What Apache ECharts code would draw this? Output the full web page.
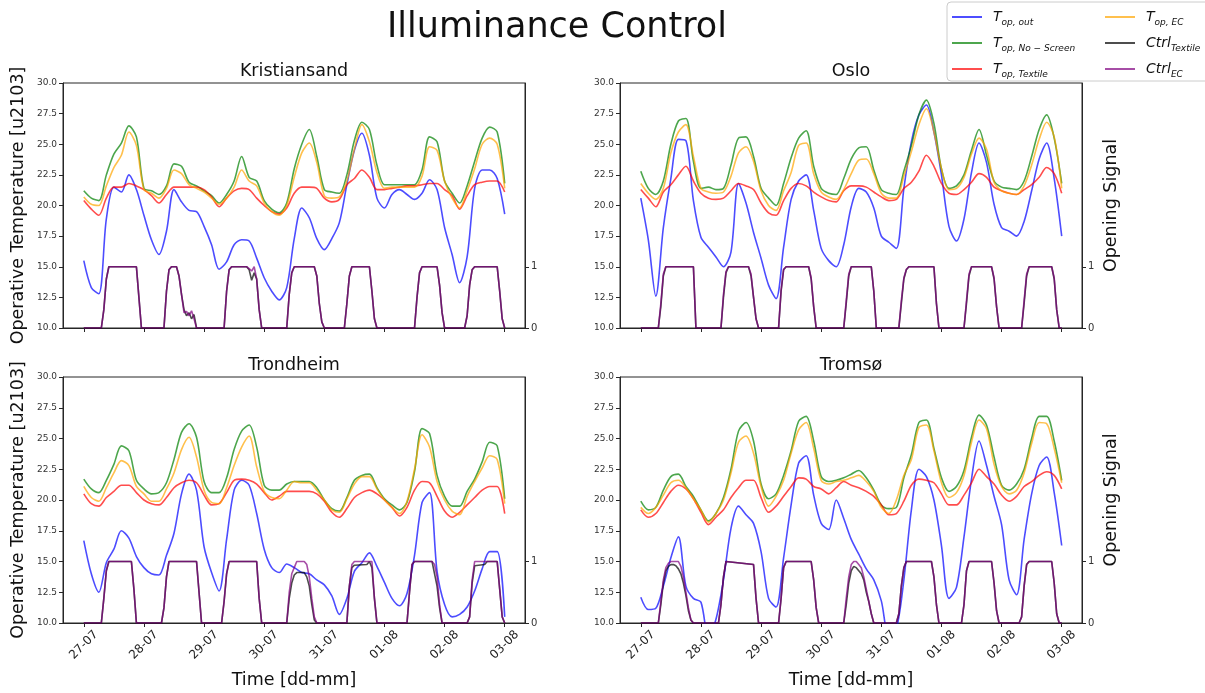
<!DOCTYPE html>
<html><head><meta charset="utf-8">
<script src="https://cdn.jsdelivr.net/npm/echarts@6/dist/echarts.min.js"></script>
<style>html,body{margin:0;padding:0;background:#fff}#c{width:1205px;height:693px}</style>
</head><body><div id="c"></div>
<script>
// ---------- data ----------
const cities = ['Kristiansand', 'Oslo', 'Trondheim', 'Tromsø'];
const xTickLabels = ['27-07','28-07','29-07','30-07','31-07','01-08','02-08','03-08'];
const xTickHours = [0, 24, 48, 72, 96, 120, 144, 168];
const signalTicks = [0, 1];
const stepHours = 3; // temperature samples every 3 h from 27-07 00:00

// Kristiansand
const kOut = [15.5,13.3,12.8,18.9,21.5,21.1,22.5,21.3,19.2,17.2,16.0,17.9,21.3,20.3,19.6,19.5,18.3,16.8,14.8,15.4,16.8,17.2,17.1,15.7,14.1,13.0,12.3,13.3,17.3,19.8,19.0,17.3,16.4,17.3,18.6,21.7,24.5,25.9,24.1,20.6,19.8,20.9,21.3,20.9,20.5,21.0,22.1,21.3,18.2,16.0,13.7,15.8,21.4,22.9,22.9,22.2,19.3];
const kNoScreen = [21.2,20.6,20.4,22.5,24.2,25.1,26.5,25.6,21.4,21.2,20.9,21.6,23.4,23.2,21.9,21.6,21.2,20.8,20.2,20.9,22.0,24.0,22.3,22.0,20.4,19.7,19.4,20.2,23.0,25.0,26.2,24.0,21.3,21.1,21.0,22.5,25.3,26.8,26.2,23.3,21.7,21.7,21.7,21.7,21.7,22.9,25.6,25.2,22.0,21.0,20.2,21.6,23.6,25.5,26.4,26.0,21.8];
const kTextile = [20.4,19.7,19.2,20.6,21.5,21.5,21.8,21.6,21.3,20.8,20.2,20.9,21.5,21.5,21.5,21.5,21.3,20.7,19.9,20.6,21.2,21.4,21.3,20.6,20.0,19.5,19.3,19.8,21.0,21.5,21.5,21.4,20.6,20.3,20.5,21.7,22.2,22.9,22.3,21.3,21.3,21.4,21.5,21.6,21.6,21.7,21.8,21.8,21.3,20.8,19.7,20.8,21.7,21.9,22.0,22.0,21.1];
const kEC = [20.7,20.1,20.0,21.6,23.1,24.1,26.0,24.9,21.3,21.0,20.6,21.4,22.9,22.6,21.7,21.4,21.1,20.6,20.1,20.6,21.5,22.9,22.0,21.6,20.2,19.5,19.2,20.0,22.3,24.3,25.1,23.5,20.8,20.6,20.7,22.0,24.6,26.6,25.2,22.7,21.4,21.5,21.5,21.5,21.5,22.4,24.8,24.5,22.0,20.6,19.8,21.2,23.0,25.0,25.5,25.0,21.4];
const kCtrlTextile = [[0,0],[7,0],[8,0.3],[9,0.8],[10,1],[21,1],[22,0.5],[23,0],[32,0],[33,0.6],[34,0.95],[35,1],[37,1],[38,0.85],[39,0.55],[40,0.3],[41,0.2],[42,0.25],[43,0.15],[44,0.22],[45,0],[56,0],[57,0.6],[58,0.95],[59,1],[65,1],[66,0.95],[67,0.78],[68,0.9],[69,0.8],[70,0.3],[71,0],[81,0],[82,0.55],[83,0.9],[84,1],[92,1],[93,0.85],[94,0.4],[95,0.1],[96,0],[104,0],[105,0.4],[106,0.85],[107,1],[114,1],[115,0.6],[116,0.15],[117,0],[132,0],[133,0.5],[134,0.9],[135,1],[141,1],[142,0.7],[143,0.25],[144,0],[152,0],[153,0.2],[154,0.7],[155,0.95],[156,1],[165,1],[166,0.6],[167,0.15],[168,0]];
const kCtrlEC = [[0,0],[7,0],[8,0.3],[9,0.8],[10,1],[21,1],[22,0.5],[23,0],[32,0],[33,0.6],[34,0.95],[35,1],[37,1],[38,0.85],[39,0.55],[40,0.25],[41,0.27],[42,0.2],[43,0.28],[44,0.15],[45,0],[56,0],[57,0.6],[58,0.95],[59,1],[65,1],[66,0.97],[67,0.93],[68,1],[69,0.8],[70,0.3],[71,0],[81,0],[82,0.55],[83,0.9],[84,1],[92,1],[93,0.85],[94,0.4],[95,0.1],[96,0],[104,0],[105,0.4],[106,0.85],[107,1],[114,1],[115,0.6],[116,0.15],[117,0],[132,0],[133,0.5],[134,0.9],[135,1],[141,1],[142,0.7],[143,0.25],[144,0],[152,0],[153,0.2],[154,0.7],[155,0.95],[156,1],[165,1],[166,0.6],[167,0.15],[168,0]];

// Oslo
const oOut = [20.6,17.2,12.6,18.2,22.2,25.4,25.3,20.4,17.4,16.6,15.8,15.0,16.2,21.8,20.2,17.8,15.7,13.5,12.4,16.6,20.5,22.0,22.5,19.6,16.5,15.5,15.0,16.8,19.9,21.4,21.1,19.8,17.5,17.0,16.5,21.4,25.2,27.4,28.2,26.0,22.5,18.3,17.1,18.9,22.7,25.1,23.5,20.1,18.2,17.9,17.5,18.7,21.2,23.8,25.1,22.2,17.5];
const oNoScreen = [22.8,21.4,20.9,22.0,25.0,26.9,27.1,23.6,21.4,21.5,21.3,21.4,23.3,25.5,25.6,24.0,21.4,20.6,20.0,21.8,23.9,25.5,26.1,23.2,21.4,21.0,20.9,22.2,23.8,24.7,24.8,22.9,21.3,21.0,20.9,22.8,24.9,27.4,28.6,26.7,23.0,21.4,21.6,22.5,24.5,26.2,24.1,22.0,21.5,21.4,21.3,22.0,24.0,26.2,27.4,25.5,21.8];
const oTextile = [21.3,20.6,19.9,21.1,21.7,22.5,23.2,22.0,21.0,20.6,20.5,20.6,21.2,21.8,21.6,21.3,20.2,19.4,19.2,20.4,21.4,21.8,21.6,21.1,20.7,20.4,20.3,21.2,21.6,21.6,21.5,21.1,20.7,20.4,20.5,21.4,21.9,22.8,24.1,23.2,21.8,21.0,20.9,21.3,21.9,22.6,22.3,21.5,21.2,21.0,20.9,21.3,21.7,22.3,23.1,22.6,21.0];
const oEC = [21.8,21.0,20.5,21.4,24.3,26.0,26.6,24.0,21.4,21.1,21.0,21.1,22.4,24.3,24.8,23.6,21.2,20.0,19.6,21.2,22.7,24.9,25.1,22.6,21.1,20.7,20.5,21.3,22.6,23.7,23.8,22.6,21.0,20.6,20.6,22.4,24.4,26.6,27.9,26.0,23.0,21.3,21.4,22.3,24.2,25.5,24.6,21.9,21.2,21.0,20.9,21.6,23.3,25.4,26.8,25.6,21.4];
const oCtrlTextile = [[0,0],[7,0],[8,0.35],[9,0.85],[10,1],[21,1],[21.5,0.5],[22,0],[32,0],[33,0.5],[34,0.9],[35,1],[43,1],[44,0.85],[45,0.5],[46,0.15],[47,0],[55,0],[56,0.6],[57,0.95],[58,1],[67,1],[68,0.8],[69,0.35],[70,0],[81,0],[82,0.4],[83,0.85],[84,1],[92,1],[93,0.6],[94,0],[103,0],[104,0.4],[105,0.8],[106,0.95],[107,1],[117,1],[118,0.4],[119,0],[129,0],[130,0.4],[131,0.85],[132,1],[140,1],[141,0.8],[142,0.35],[143,0],[152,0],[153,0.4],[154,0.85],[155,1],[164,1],[165,0.8],[166,0.3],[167,0],[168,0]];
const oCtrlEC = [[0,0],[7,0],[8,0.4],[9,0.88],[10,1],[21,1],[21.5,0.5],[22,0],[32,0],[33,0.55],[34,0.92],[35,1],[43,1],[44,0.88],[45,0.5],[46,0.15],[47,0],[55,0],[56,0.62],[57,0.96],[58,1],[67,1],[68,0.82],[69,0.35],[70,0],[81,0],[82,0.45],[83,0.88],[84,1],[92,1],[93,0.6],[94,0],[103,0],[104,0.45],[105,0.82],[106,0.96],[107,1],[117,1],[118,0.4],[119,0],[129,0],[130,0.45],[131,0.88],[132,1],[140,1],[141,0.82],[142,0.35],[143,0],[152,0],[153,0.45],[154,0.88],[155,1],[164,1],[165,0.82],[166,0.3],[167,0],[168,0]];

// Trondheim
const tdOut = [16.7,14.0,12.5,14.9,16.0,17.5,16.9,15.4,14.5,14.0,13.9,15.5,17.3,20.5,22.1,20.8,16.2,14.1,12.6,16.8,20.8,21.6,21.2,18.9,16.0,14.5,14.1,14.8,14.5,14.1,14.0,13.5,13.1,12.2,10.7,12.0,14.2,14.9,15.7,14.6,13.3,12.0,11.4,12.4,15.5,19.8,20.6,14.2,11.5,10.5,10.7,11.3,12.6,14.4,15.8,15.8,10.5];
const tdNoScreen = [21.7,20.9,20.6,21.6,22.9,24.4,24.0,21.6,20.9,20.5,20.6,21.4,23.3,25.5,26.2,25.1,21.5,20.6,20.6,21.8,24.1,25.6,26.1,24.3,21.2,20.8,20.8,21.3,21.5,21.5,21.5,21.0,20.0,19.3,19.1,20.2,21.6,22.0,22.1,21.0,20.1,19.6,19.2,19.8,22.3,25.8,25.4,22.0,20.3,19.5,19.5,20.7,21.7,23.1,24.7,24.4,20.1];
const tdTextile = [20.5,19.7,19.5,20.2,20.7,21.2,21.2,20.6,20.0,19.7,19.6,20.2,21.0,21.4,21.6,21.4,20.4,19.6,19.7,20.6,21.6,21.7,21.6,21.3,20.6,20.0,20.3,20.7,20.7,20.7,20.7,20.5,19.9,19.0,18.6,19.3,20.2,20.6,20.8,20.5,20.0,19.4,18.7,19.4,20.8,21.5,21.4,20.3,19.1,18.6,19.0,19.6,20.2,20.8,21.1,21.1,18.9];
const tdEC = [21.1,20.2,19.9,21.0,22.2,23.2,22.8,21.1,20.5,19.9,19.9,20.9,22.2,24.1,25.1,23.5,20.8,19.8,19.7,21.0,22.8,24.3,25.2,22.7,20.7,20.2,20.1,20.8,21.5,21.4,21.4,20.8,20.0,19.2,19.0,20.1,21.3,21.9,21.9,20.9,20.0,19.4,18.9,19.9,22.5,25.3,24.3,21.5,20.0,19.1,18.8,20.3,21.5,22.6,23.6,23.3,19.7];
const tdCtrlTextile = [[0,0],[7,0],[8,0.4],[9,0.85],[10,1],[19,1],[20,0.55],[21,0],[31,0],[32,0.25],[33,0.75],[34,1],[45,1],[46,0.5],[47,0],[55,0],[56,0.35],[57,0.8],[58,1],[69,1],[70,0.4],[71,0],[81,0],[82,0.4],[83,0.65],[84,0.78],[85,0.82],[88,0.82],[89,0.75],[90,0.6],[91,0.3],[92,0.05],[93,0],[105,0],[106,0.6],[107,0.9],[108,0.94],[113,0.95],[114,1],[115,0.9],[116,0.4],[117,0],[129,0],[130,0.5],[131,0.95],[132,1],[139,1],[140,0.8],[141,0.6],[142,0.25],[143,0],[153,0],[154,0.1],[155,0.65],[156,0.93],[160,0.95],[161,1],[165,1],[166,0.55],[167,0.1],[168,0]];
const tdCtrlEC = [[0,0],[7,0],[8,0.4],[9,0.85],[10,1],[19,1],[20,0.55],[21,0],[31,0],[32,0.25],[33,0.75],[34,1],[45,1],[46,0.5],[47,0],[55,0],[56,0.35],[57,0.8],[58,1],[69,1],[70,0.4],[71,0],[81,0],[82,0.5],[83,0.8],[84,0.9],[85,1],[88,1],[89,0.95],[90,0.75],[91,0.4],[92,0.1],[93,0],[105,0],[106,0.6],[107,0.95],[108,1],[115,1],[116,0.4],[117,0],[129,0],[130,0.5],[131,0.95],[132,1],[139,1],[140,0.95],[141,0.75],[142,0.3],[143,0],[153,0],[154,0.1],[155,0.7],[156,1],[165,1],[166,0.55],[167,0.1],[168,0]];

// Tromsø
const tmOut = [12.1,11.1,11.2,13.0,15.3,17.0,13.0,12.0,11.7,8.8,10.3,13.5,17.7,19.5,18.8,18.1,15.8,12.0,11.3,15.3,19.6,23.0,23.6,20.4,18.1,17.6,20.0,18.5,16.8,15.6,14.4,13.5,11.8,9.0,9.5,13.5,19.2,22.5,21.9,20.0,16.3,12.0,12.9,17.0,21.7,24.8,22.8,20.3,18.0,13.5,12.3,16.8,20.5,22.8,23.5,20.6,16.3];
const tmNoScreen = [19.9,19.2,19.4,20.8,21.9,22.1,21.1,20.3,19.2,18.3,18.9,20.2,22.5,25.6,26.3,24.8,21.3,20.1,20.5,22.0,24.0,26.4,26.8,24.8,21.9,21.5,21.6,21.8,22.1,22.4,21.8,20.8,19.6,19.3,19.4,21.8,23.7,26.3,26.5,24.2,21.8,20.7,21.1,22.4,25.1,26.9,26.1,23.5,21.2,20.8,21.3,22.5,25.0,26.8,26.8,24.8,21.6];
const tmTextile = [19.2,18.6,18.9,19.8,20.7,21.2,20.9,20.1,19.0,18.0,18.6,19.2,20.2,21.0,21.6,21.6,20.2,19.0,19.5,20.3,21.1,21.8,21.7,21.1,20.9,20.5,21.0,21.5,21.2,21.0,20.7,20.3,19.6,18.8,18.9,19.9,21.2,21.7,21.6,21.4,20.5,19.6,19.6,20.4,21.4,22.5,21.9,21.3,20.4,19.9,20.3,21.1,21.5,22.0,22.3,22.0,20.9];
const tmEC = [19.4,18.9,19.4,20.4,21.4,21.6,21.0,20.1,19.2,18.2,18.9,20.0,22.2,24.7,25.2,23.8,21.1,19.5,20.3,21.6,23.8,25.7,26.3,24.2,21.6,21.3,21.5,21.6,21.8,22.0,21.5,20.7,19.4,18.9,20.0,22.0,23.3,25.9,26.1,24.0,21.4,20.2,20.6,22.0,24.7,26.5,25.8,22.9,21.1,20.5,20.8,22.2,24.6,26.3,26.2,24.2,21.4];
const tmCtrlTextile = [[0,0],[7,0],[8,0.3],[9,0.65],[10,0.85],[11,0.92],[12,0.95],[13,0.95],[14,0.93],[15,0.88],[16,0.8],[17,0.65],[18,0.45],[19,0.2],[20,0.05],[21,0],[31,0],[32,0.3],[33,0.75],[34,1],[45,0.95],[46,0.4],[47,0],[55,0],[56,0.4],[57,0.9],[58,1],[68,1],[69,0.7],[70,0.25],[71,0],[81,0],[82,0.3],[83,0.65],[84,0.85],[85,0.92],[86,0.9],[87,0.85],[88,0.8],[89,0.7],[90,0.5],[91,0.35],[92,0.15],[93,0],[102,0],[103,0.15],[104,0.6],[105,0.9],[106,1],[116,1],[117,0.75],[118,0.3],[119,0],[128,0],[129,0.3],[130,0.85],[131,1],[140,1],[141,0.65],[142,0.2],[143,0],[151,0],[152,0.1],[153,0.6],[154,0.95],[155,1],[164,1],[165,0.65],[166,0.15],[167,0],[168,0]];
const tmCtrlEC = [[0,0],[7,0],[8,0.35],[9,0.7],[10,0.9],[11,0.97],[12,1],[15,1],[16,0.92],[17,0.75],[18,0.5],[19,0.25],[20,0.05],[21,0],[31,0],[32,0.3],[33,0.75],[34,1],[45,0.95],[46,0.4],[47,0],[55,0],[56,0.4],[57,0.9],[58,1],[68,1],[69,0.7],[70,0.25],[71,0],[81,0],[82,0.4],[83,0.75],[84,0.95],[85,1],[86,1],[87,0.95],[88,0.9],[89,0.75],[90,0.55],[91,0.35],[92,0.15],[93,0],[102,0],[103,0.15],[104,0.6],[105,0.9],[106,1],[116,1],[117,0.75],[118,0.3],[119,0],[128,0],[129,0.3],[130,0.85],[131,1],[140,1],[141,0.65],[142,0.2],[143,0],[151,0],[152,0.1],[153,0.6],[154,0.95],[155,1],[164,1],[165,0.65],[166,0.15],[167,0],[168,0]];

// ---------- build ----------
const panels = [
  {out:kOut, noScreen:kNoScreen, textile:kTextile, ec:kEC, ctrlTextile:kCtrlTextile, ctrlEC:kCtrlEC},
  {out:oOut, noScreen:oNoScreen, textile:oTextile, ec:oEC, ctrlTextile:oCtrlTextile, ctrlEC:oCtrlEC},
  {out:tdOut, noScreen:tdNoScreen, textile:tdTextile, ec:tdEC, ctrlTextile:tdCtrlTextile, ctrlEC:tdCtrlEC},
  {out:tmOut, noScreen:tmNoScreen, textile:tmTextile, ec:tmEC, ctrlTextile:tmCtrlTextile, ctrlEC:tmCtrlEC}
];
const withHours = arr => arr.map((v, i) => [i * stepHours, v]);

const FONT = 'DejaVu Sans';
const AX = '#262626';
const seriesDefs = [
  {key:'out', name:'Tout', color:'#0000ff', legend:'#4d4dff', ctrl:false},
  {key:'noScreen', name:'TnoScreen', color:'#008000', legend:'#4da64d', ctrl:false},
  {key:'textile', name:'Ttextile', color:'#ff0000', legend:'#ff4d4d', ctrl:false},
  {key:'ec', name:'TEC', color:'#ffa500', legend:'#ffc04d', ctrl:false},
  {key:'ctrlTextile', name:'CtrlTextile', color:'#000000', legend:'#4d4d4d', ctrl:true},
  {key:'ctrlEC', name:'CtrlEC', color:'#800080', legend:'#a64da6', ctrl:true}
];
const legendText = {
  Tout: '{sp| }{m|T}{s|op, out}',
  TnoScreen: '{sp| }{m|T}{s|op, No − Screen}',
  Ttextile: '{sp| }{m|T}{s|op, Textile}',
  TEC: '{sp| }{m|T}{s|op, EC}',
  CtrlTextile: '{sp| }{m|Ctrl}{s|Textile}',
  CtrlEC: '{sp| }{m|Ctrl}{s|EC}'
};

const gridPos = [
  {left:63, top:83, width:462, height:245},
  {left:620, top:83, width:462, height:245},
  {left:63, top:377, width:462, height:246},
  {left:620, top:377, width:462, height:246}
];

const grid = [], xAxis = [], yAxis = [], series = [];
gridPos.forEach((g, gi) => {
  const isBottom = gi >= 2, isLeft = gi % 2 === 0;
  grid.push(Object.assign({show:true, borderColor:AX, borderWidth:1, backgroundColor:'rgba(0,0,0,0)'}, g));
  xAxis.push({
    type:'value', gridIndex:gi, min:-8.3, max:176.1,
    axisLine:{show:true, onZero:false, lineStyle:{color:AX, width:1}},
    axisTick:{show:true, customValues:xTickHours, length:4, lineStyle:{color:AX}},
    axisLabel:{show:isBottom, customValues:xTickHours, rotate:45, align:'center', verticalAlign:'middle',
      margin:22, fontSize:12, fontFamily:FONT, color:'#222',
      formatter: v => xTickLabels[xTickHours.indexOf(Math.round(v))] || ''},
    splitLine:{show:false},
    name: isBottom ? 'Time [dd-mm]' : '', nameLocation:'middle', nameGap:48,
    nameTextStyle:{fontSize:17.5, fontFamily:FONT, color:'#111'}
  });
  yAxis.push({
    type:'value', gridIndex:gi, min:10, max:30, interval:2.5, position:'left',
    axisLine:{show:true, onZero:false, lineStyle:{color:AX, width:1}},
    axisTick:{show:true, length:4, lineStyle:{color:AX}},
    axisLabel:{fontSize:9, fontFamily:FONT, color:'#333', margin:6, formatter: v => v.toFixed(1)},
    splitLine:{show:false},
    name: isLeft ? 'Operative Temperature [u2103]' : '', nameLocation:'middle', nameRotate:90, nameGap:36,
    nameTextStyle:{fontSize:17.5, fontFamily:FONT, color:'#111'}
  });
  yAxis.push({
    type:'value', gridIndex:gi, min:0, max:4, position:'right',
    axisLine:{show:true, onZero:false, lineStyle:{color:AX, width:1}},
    axisTick:{show:true, customValues:signalTicks, length:4, lineStyle:{color:AX}},
    axisLabel:{customValues:signalTicks, fontSize:10, fontFamily:FONT, color:'#333', margin:6},
    splitLine:{show:false},
    name: isLeft ? '' : 'Opening Signal', nameLocation:'middle', nameRotate:90, nameGap:20,
    nameTextStyle:{fontSize:17.5, fontFamily:FONT, color:'#111'}
  });
  const p = panels[gi];
  seriesDefs.forEach(d => {
    series.push({
      type:'line', name:d.name, xAxisIndex:gi, yAxisIndex: d.ctrl ? gi*2+1 : gi*2,
      data: d.ctrl ? p[d.key] : withHours(p[d.key]),
      showSymbol:false, symbol:'none', smooth: d.ctrl ? false : 0.3, animation:false,
      lineStyle:{color:d.color, width:1.6, opacity:0.7},
      itemStyle:{color:d.legend},
      emphasis:{disabled:true}
    });
  });
});

const legendRich = {
  sp:{width:6, fontSize:10},
  m:{fontSize:14, fontStyle:'italic', fontFamily:FONT, color:'#111', lineHeight:20},
  s:{fontSize:9, fontStyle:'italic', fontFamily:FONT, color:'#111', lineHeight:10, verticalAlign:'bottom'}
};
function legendComp(left, names) {
  return {
    left:left, top:10, orient:'vertical', padding:0, itemWidth:30, itemHeight:2, itemGap:9,
    selectedMode:false,
    data: names.map(n => ({name:n, icon:'rect', itemStyle:{color:seriesDefs.find(d => d.name === n).legend}})),
    formatter: n => legendText[n],
    textStyle:{rich:legendRich, fontFamily:FONT}
  };
}

const titleStyle = (t, x, y, size) => ({
  type:'text', x:x, y:y,
  style:{text:t, font: size + 'px "' + FONT + '"', fill:'#111', textAlign:'center', textVerticalAlign:'middle', align:'center', verticalAlign:'middle'}
});

const option = {
  backgroundColor:'#fff',
  animation:false,
  grid, xAxis, yAxis, series,
  legend:[legendComp(952, ['Tout','TnoScreen','Ttextile']), legendComp(1105, ['TEC','CtrlTextile','CtrlEC'])],
  graphic:[
    {type:'rect', z:-1, shape:{x:947, y:2, width:262, height:79, r:4}, style:{fill:'#fff', stroke:'#cccccc', lineWidth:1}},
    titleStyle('Illuminance Control', 557, 28, 35),
    titleStyle(cities[0], 294, 71, 17.5),
    titleStyle(cities[1], 851, 71, 17.5),
    titleStyle(cities[2], 294, 365, 17.5),
    titleStyle(cities[3], 851, 365, 17.5)
  ]
};
const chart = echarts.init(document.getElementById('c'), null, {renderer:'canvas'});
chart.setOption(option);
</script></body></html>
